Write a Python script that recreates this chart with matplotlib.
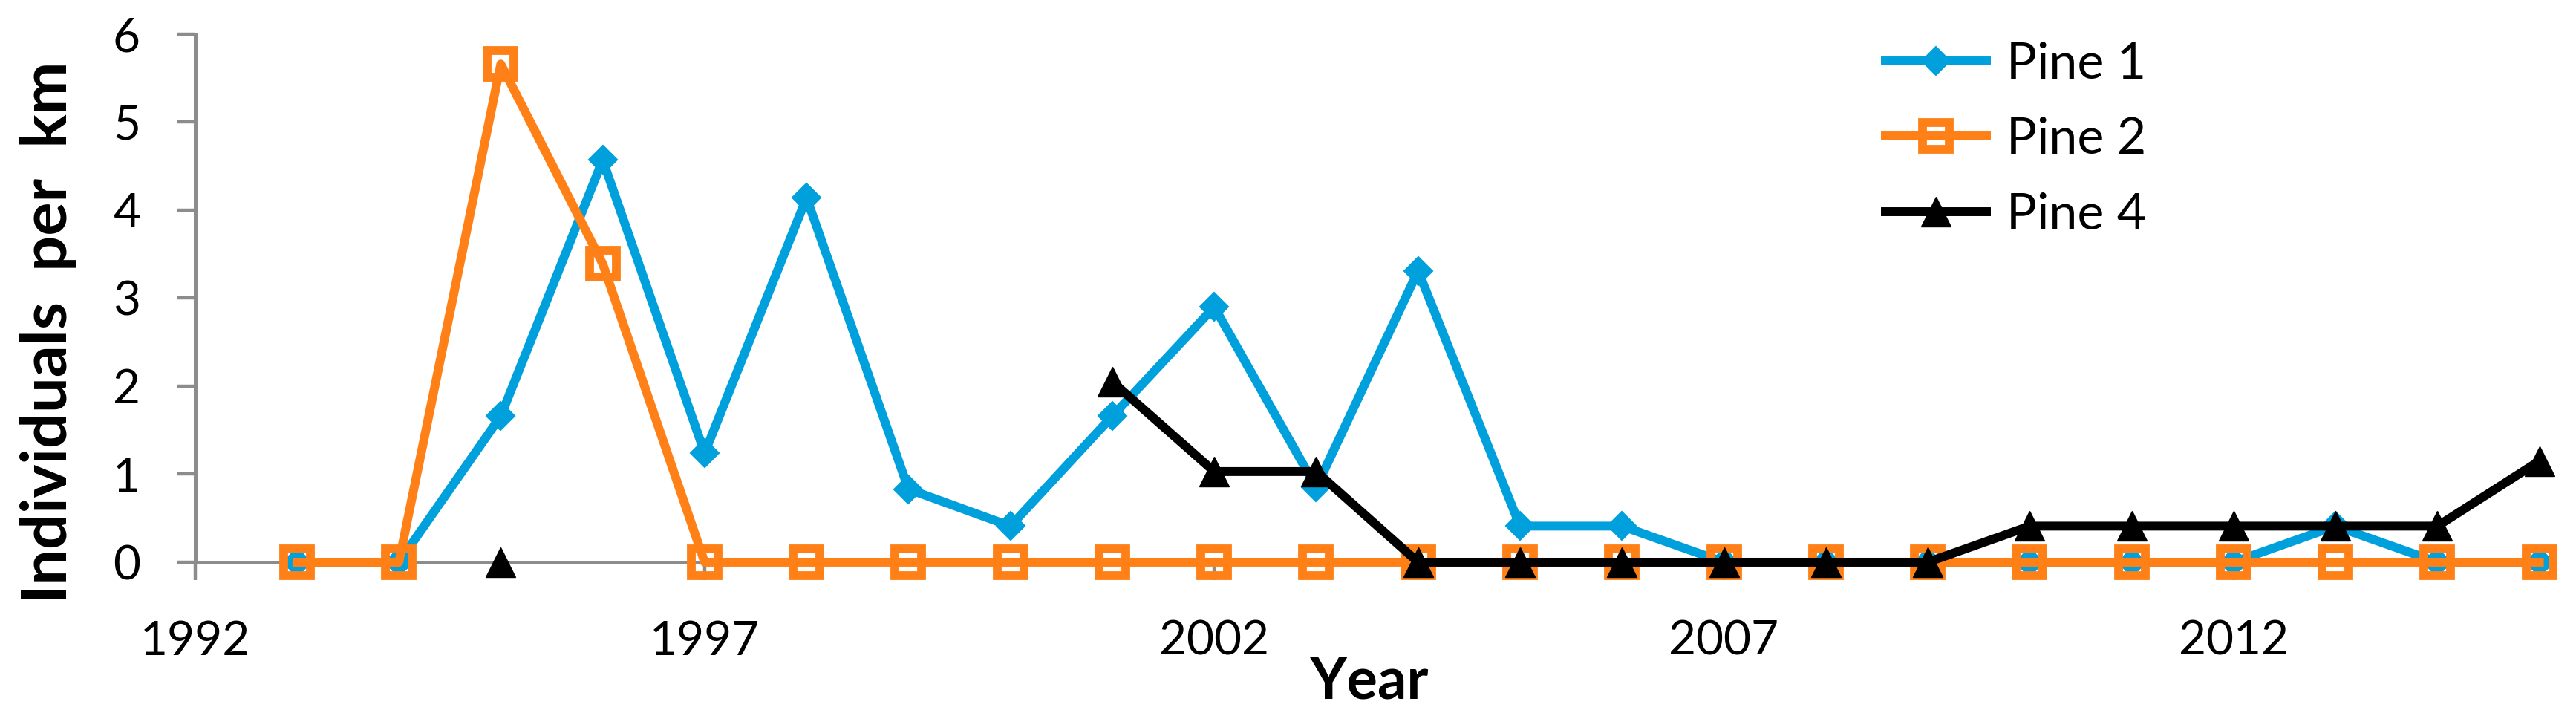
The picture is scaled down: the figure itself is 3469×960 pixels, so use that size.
import numpy as np
import matplotlib
matplotlib.use('Agg')
import matplotlib.pyplot as plt

matplotlib.rc('font', family='Lato')

# data
years = list(range(1993, 2016))
pine1 = [0, 0, 1.66, 4.57, 1.24, 4.14, 0.83, 0.41, 1.66, 2.90, 0.85, 3.31,
         0.41, 0.41, 0, 0, 0, 0, 0, 0, 0.41, 0, 0]
pine2 = [0, 0, 5.66, 3.39, 0, 0, 0, 0, 0, 0, 0, 0,
         0, 0, 0, 0, 0, 0, 0, 0, 0, 0, 0]
nan = np.nan
pine4 = [nan, nan, 0, nan, nan, nan, nan, nan, 2.05, 1.03, 1.03, 0,
         0, 0, 0, 0, 0, 0.41, 0.41, 0.41, 0.41, 0.41, 1.15]
labels = ['Pine 1', 'Pine 2', 'Pine 4']
xticks = [1992, 1997, 2002, 2007, 2012]
yticks = [0, 1, 2, 3, 4, 5, 6]

blue = '#00A0DC'
orange = '#FF8016'
gray = '#8C8C8C'

fig = plt.figure(figsize=(34.69, 9.6), dpi=100)
ax = fig.add_axes([0.0757, 0.2115, 0.916, 0.7406])

lw = 8.6
ax.plot(years, pine1, '-D', color=blue, lw=lw, ms=19, mew=1.5, label=labels[0],
        clip_on=False, zorder=3)
ax.plot(years, pine2, '-s', color=orange, lw=lw, ms=26, mew=8.5,
        markerfacecolor='none', markeredgecolor=orange, label=labels[1],
        clip_on=False, zorder=4)
ax.plot(years, pine4, '-^', color='black', lw=lw, ms=29, mew=1, label=labels[2],
        clip_on=False, zorder=5)

ax.set_xlim(1992, 2015.15)
ax.set_ylim(0, 6)
ax.set_xticks(xticks)
ax.set_yticks(yticks)

for s in ['top', 'right']:
    ax.spines[s].set_visible(False)
for s in ['left', 'bottom']:
    ax.spines[s].set_color(gray)
    ax.spines[s].set_linewidth(3.6)

ax.tick_params(axis='both', colors=gray, labelcolor='black', labelsize=46,
               length=17, width=3.2, direction='out')
ax.tick_params(axis='x', pad=39)
ax.tick_params(axis='y', pad=36)

fig.text(0.019, 0.534, 'Individuals  per  km', rotation=90, ha='center',
         va='center', fontsize=61, fontweight='bold')
fig.text(0.5316, 0.0208, 'Year', ha='center', va='baseline', fontsize=56,
         fontweight='bold')

ax.legend(loc='upper left', bbox_to_anchor=(0.7319, 0.942),
          bbox_transform=fig.transFigure, frameon=False, fontsize=49,
          borderpad=0, borderaxespad=0, handlelength=2.0, handletextpad=0.4,
          labelspacing=0.58, numpoints=1)

plt.savefig('out.png', dpi=100)
plt.close()
